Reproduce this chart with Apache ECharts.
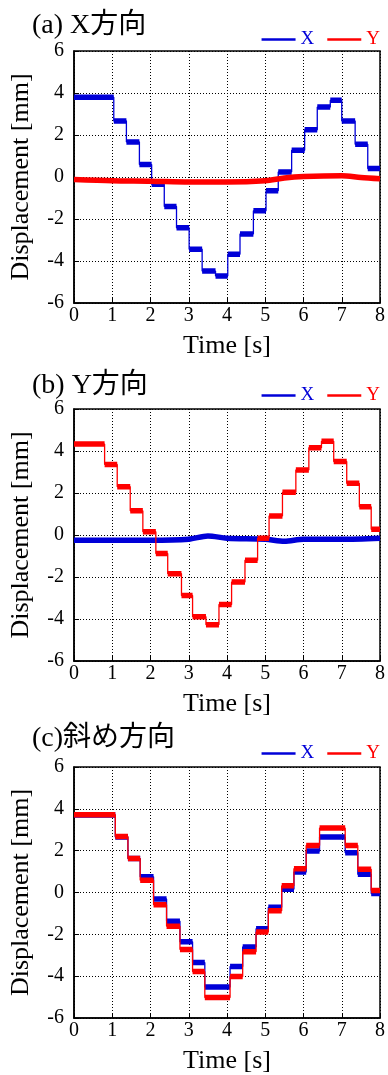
<!DOCTYPE html>
<html>
<head>
<meta charset="utf-8">
<script src="https://cdn.jsdelivr.net/npm/echarts@6/dist/echarts.min.js"></script>
<style>
  html, body { margin: 0; padding: 0; background: #fff; }
  #chart { width: 388px; height: 1075px; }
</style>
</head>
<body>
<div id="chart"></div>
<script>
// panel titles
const titles = ['(a) X方向', '(b) Y方向', '(c)斜め方向'];

// (a) X direction: X steps, Y baseline
const aXTimes = [0, 1.04, 1.37, 1.71, 2.03, 2.36, 2.68, 3.01, 3.35, 3.7, 4.02, 4.34, 4.69, 5.02, 5.34, 5.69, 6.03, 6.36, 6.7, 7.0, 7.35, 7.68];
const aXLevels = [3.8, 2.67, 1.67, 0.59, -0.35, -1.4, -2.42, -3.44, -4.48, -4.71, -3.68, -2.71, -1.61, -0.65, 0.24, 1.27, 2.25, 3.33, 3.65, 2.67, 1.56, 0.4];
const aYTimes = [0, 1, 2, 3, 4, 5, 5.5, 6, 7, 7.5, 8];
const aYValues = [-0.12, -0.18, -0.2, -0.24, -0.24, -0.18, -0.05, 0.02, 0.06, -0.02, -0.08];

// (b) Y direction: Y steps, X baseline
const bYTimes = [0, 0.8, 1.13, 1.47, 1.8, 2.14, 2.45, 2.81, 3.1, 3.45, 3.79, 4.12, 4.47, 4.8, 5.1, 5.45, 5.8, 6.14, 6.47, 6.79, 7.13, 7.46, 7.77];
const bYLevels = [4.33, 3.36, 2.3, 1.15, 0.16, -0.88, -1.84, -2.88, -3.89, -4.27, -3.31, -2.24, -1.2, -0.16, 0.91, 2.03, 3.1, 4.16, 4.46, 3.5, 2.46, 1.34, 0.27];
const bXTimes = [0, 1, 2, 3, 3.5, 4, 5, 5.5, 6, 7, 8];
const bXValues = [-0.25, -0.25, -0.25, -0.2, -0.05, -0.15, -0.2, -0.3, -0.2, -0.2, -0.15];

// (c) diagonal: both steps
const cTimes = [0, 1.08, 1.41, 1.73, 2.08, 2.42, 2.77, 3.1, 3.42, 4.08, 4.41, 4.76, 5.08, 5.43, 5.75, 6.07, 6.42, 7.09, 7.42, 7.77];
const cXLevels = [3.7, 2.65, 1.62, 0.75, -0.31, -1.37, -2.36, -3.35, -4.52, -3.54, -2.6, -1.73, -0.71, 0.16, 0.98, 1.98, 2.65, 1.9, 0.87, -0.05];
const cYLevels = [3.72, 2.68, 1.62, 0.59, -0.58, -1.61, -2.72, -3.78, -5.02, -4.02, -2.83, -1.89, -0.87, 0.32, 1.14, 2.25, 3.08, 2.25, 1.11, 0.1];

const BLUE = '#0000d8';
const RED = '#ff0000';
const SERIF = '"Liberation Serif", "Noto Sans CJK JP", serif';

const gridTops = [51, 409, 767];
const titleTops = [12, 372, 725];
const legendTops = [30, 386, 744];

// full step line (thin risers)
function stepData(times, levels) {
  const d = times.map((t, i) => [t, levels[i]]);
  d.push([8, levels[levels.length - 1]]);
  return d;
}
// plateaus only, broken between steps (thick noisy band)
function plateauData(times, levels) {
  const d = [];
  times.forEach((t, i) => {
    const end = i + 1 < times.length ? times[i + 1] : 8;
    d.push([t, levels[i]], [end, levels[i]], '-');
  });
  return d;
}
function lineData(times, values) {
  return times.map((t, i) => [t, values[i]]);
}

const grids = gridTops.map(top => ({
  left: 73, right: 6, top: top, height: 252,
  show: true, borderColor: '#000', borderWidth: 1.5, backgroundColor: 'transparent'
}));

const xAxes = gridTops.map((_, i) => ({
  type: 'value', gridIndex: i, min: 0, max: 8, interval: 1,
  name: 'Time [s]', nameLocation: 'middle', nameGap: 30,
  nameTextStyle: { fontFamily: SERIF, fontSize: 26, color: '#000' },
  axisLine: { show: true, onZero: false, lineStyle: { color: '#000', width: 1.5 } },
  axisTick: { show: true, inside: true, length: 5, lineStyle: { color: '#000' } },
  axisLabel: { fontFamily: SERIF, fontSize: 20, color: '#000', margin: 3 },
  splitLine: { show: true, lineStyle: { color: '#000', type: [1, 2], width: 1 } }
}));

const yAxes = gridTops.map((_, i) => ({
  type: 'value', gridIndex: i, min: -6, max: 6, interval: 2,
  name: 'Displacement [mm]', nameLocation: 'middle', nameGap: 40, nameRotate: 90,
  nameTextStyle: { fontFamily: SERIF, fontSize: 26, color: '#000' },
  axisLine: { show: true, lineStyle: { color: '#000', width: 1.5 } },
  axisTick: { show: true, inside: true, length: 5, lineStyle: { color: '#000' } },
  axisLabel: { fontFamily: SERIF, fontSize: 20, color: '#000', margin: 10 },
  splitLine: { show: true, lineStyle: { color: '#000', type: [1, 2], width: 1 } }
}));

function stepSeries(name, idx, times, levels, color) {
  return [
    {
      name: name, type: 'line', xAxisIndex: idx, yAxisIndex: idx,
      data: stepData(times, levels), step: 'end', showSymbol: false, symbol: 'none',
      lineStyle: { color: color, width: 1.3 }, itemStyle: { color: color }
    },
    {
      name: name, type: 'line', xAxisIndex: idx, yAxisIndex: idx,
      data: plateauData(times, levels), connectNulls: false, showSymbol: false, symbol: 'none',
      lineStyle: { color: color, width: 5.5 }, itemStyle: { color: color }
    }
  ];
}
function baseSeries(name, idx, times, values, color) {
  return [{
    name: name, type: 'line', xAxisIndex: idx, yAxisIndex: idx,
    data: lineData(times, values), smooth: 0.3, showSymbol: false, symbol: 'none',
    lineStyle: { color: color, width: 5.5 }, itemStyle: { color: color }
  }];
}

const option = {
  animation: false,
  backgroundColor: '#fff',
  textStyle: { fontFamily: SERIF },
  title: titles.map((t, i) => ({
    text: t, left: 32, top: titleTops[i], padding: 0,
    textStyle: { fontFamily: SERIF, fontSize: 28, fontWeight: 'normal', color: '#000' }
  })),
  legend: legendTops.map(top => ({
    right: 8, top: top, padding: 0, itemWidth: 34, itemHeight: 2.5, itemGap: 13,
    icon: 'rect',
    textStyle: { fontFamily: SERIF, fontSize: 19 },
    data: [
      { name: 'X', textStyle: { color: BLUE } },
      { name: 'Y', textStyle: { color: RED } }
    ]
  })),
  grid: grids,
  xAxis: xAxes,
  yAxis: yAxes,
  series: [].concat(
    stepSeries('X', 0, aXTimes, aXLevels, BLUE),
    baseSeries('Y', 0, aYTimes, aYValues, RED),
    baseSeries('X', 1, bXTimes, bXValues, BLUE),
    stepSeries('Y', 1, bYTimes, bYLevels, RED),
    stepSeries('X', 2, cTimes, cXLevels, BLUE),
    stepSeries('Y', 2, cTimes, cYLevels, RED)
  )
};

const chart = echarts.init(document.getElementById('chart'));
chart.setOption(option);
</script>
</body>
</html>
